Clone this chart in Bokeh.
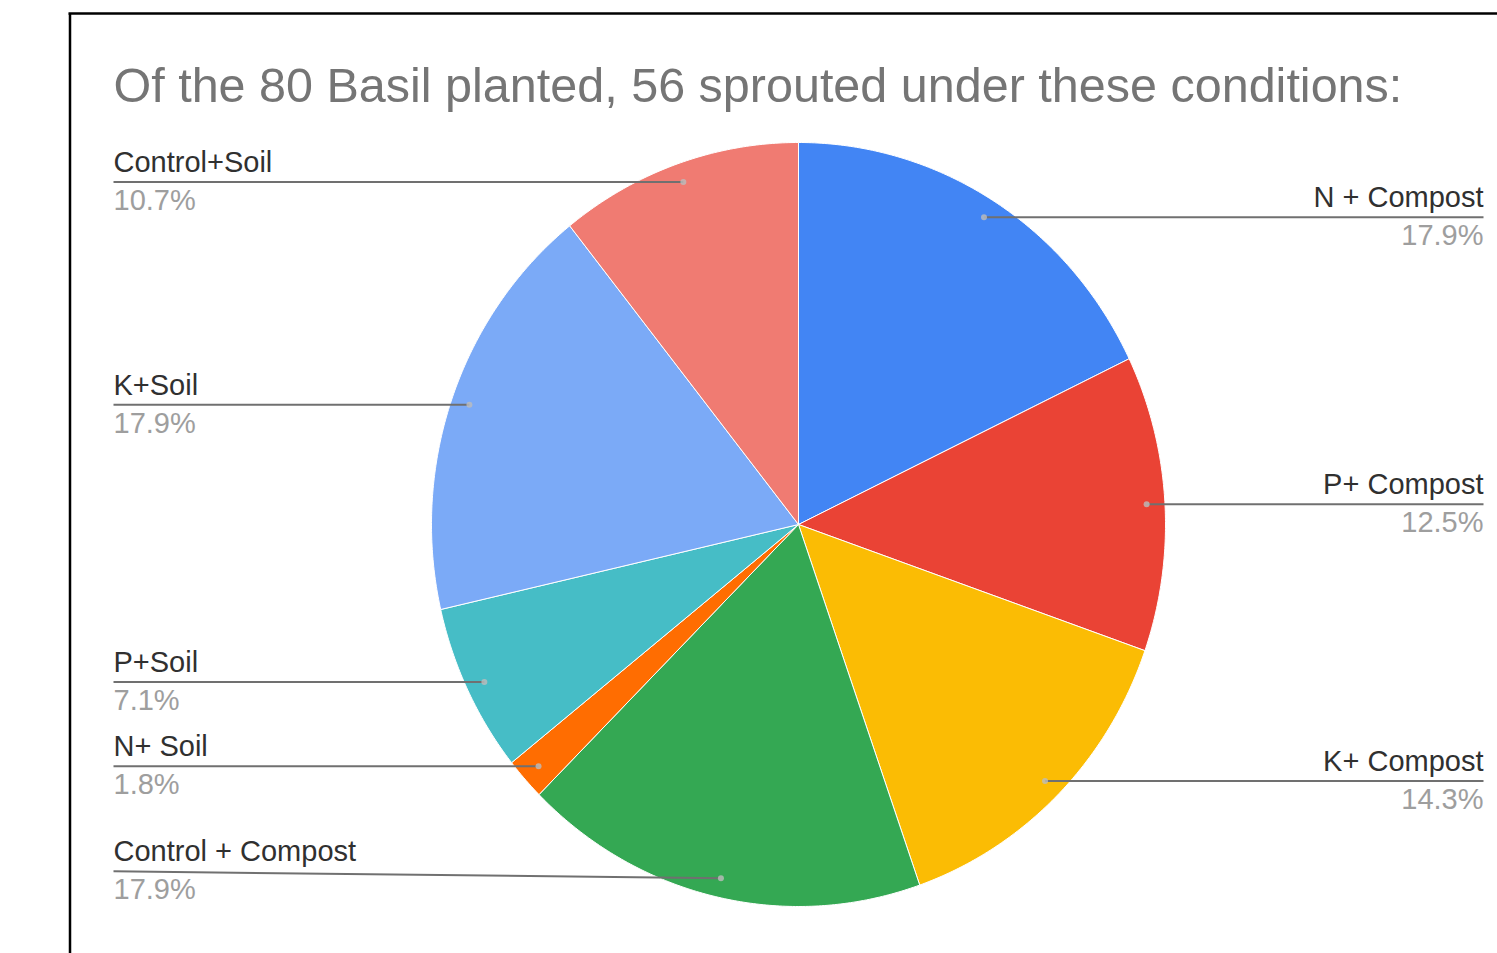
import numpy as np
from bokeh.plotting import figure
from bokeh.models import Range1d
from bokeh.core.properties import value
from bokeh.embed import file_html
from bokeh.resources import INLINE

# ---------------- data ----------------
title_text = "Of the 80 Basil planted, 56 sprouted under these conditions:"
categories = ["N + Compost", "P+ Compost", "K+ Compost", "Control + Compost",
              "N+ Soil", "P+Soil", "K+Soil", "Control+Soil"]
counts = [10, 7, 8, 10, 1, 4, 10, 6]
colors = ["#4285F4", "#EA4335", "#FBBC04", "#34A853",
          "#FF6D01", "#46BDC6", "#7BAAF7", "#F07B72"]

# ---------------- layout ----------------
W, H = 1497, 953
CX, CY = 798, 524          # pie centre (pixels, y downward)
RX, RY = 367, 382          # pie radii (source image is slightly squeezed)
ANCHOR = 0.95              # leader dot position as fraction of radius
LEFT_X, RIGHT_X = 113, 1483
LABEL_SHIFT = {"Control + Compost": -7}
FONT = value("Liberation Sans")

p = figure(width=W, height=H, x_range=Range1d(0, W), y_range=Range1d(H, 0),
           x_axis_type=None, y_axis_type=None, toolbar_location=None,
           output_backend="svg", min_border=0)
p.outline_line_color = None
p.grid.visible = False
p.background_fill_color = "white"
p.border_fill_color = "white"

# frame around the chart
p.segment(x0=[68, 69.5], y0=[13, 13], x1=[W, 69.5], y1=[13, H],
          line_color="black", line_width=2.5)

total = float(sum(counts))
fracs = [c / total for c in counts]
starts = np.cumsum([0.0] + fracs[:-1]) * 2 * np.pi
ends = np.cumsum(fracs) * 2 * np.pi

xs, ys = [], []
for a0, a1 in zip(starts, ends):
    n = max(3, int((a1 - a0) / (2 * np.pi) * 720))
    t = np.linspace(a0, a1, n)
    xs.append([CX] + list(CX + RX * np.sin(t)) + [CX])
    ys.append([CY] + list(CY - RY * np.cos(t)) + [CY])

p.patches(xs=xs, ys=ys, fill_color=colors, line_color="white", line_width=1)

# labels and leaders
for cat, f, a0, a1 in zip(categories, fracs, starts, ends):
    mid = (a0 + a1) / 2
    dx = CX + ANCHOR * RX * np.sin(mid)
    dy = CY - ANCHOR * RY * np.cos(mid)
    ly = dy + LABEL_SHIFT.get(cat, 0)
    pct = "%.1f%%" % (f * 100)
    if np.sin(mid) > 0:
        lx, align = RIGHT_X, "right"
        p.line(x=[dx, lx], y=[dy, ly], line_color="#707070", line_width=2)
    else:
        lx, align = LEFT_X, "left"
        p.line(x=[lx, dx], y=[ly, dy], line_color="#707070", line_width=2)
    p.scatter(x=[dx], y=[dy], size=6, fill_color="#bdbdbd", fill_alpha=0.8,
              line_color=None)
    p.text(x=[lx], y=[ly - 20], text=[cat], text_font=FONT, text_font_size="29px",
           text_align=align, text_baseline="middle", text_color="#303030")
    p.text(x=[lx], y=[ly + 18], text=[pct], text_font=FONT, text_font_size="29px",
           text_align=align, text_baseline="middle", text_color="#9e9e9e")

p.text(x=[LEFT_X], y=[84], text=[title_text], text_font=FONT,
       text_font_size="48.5px", text_align="left", text_baseline="middle",
       text_color="#757575")

open("out.html", "w").write(file_html(p, INLINE))
